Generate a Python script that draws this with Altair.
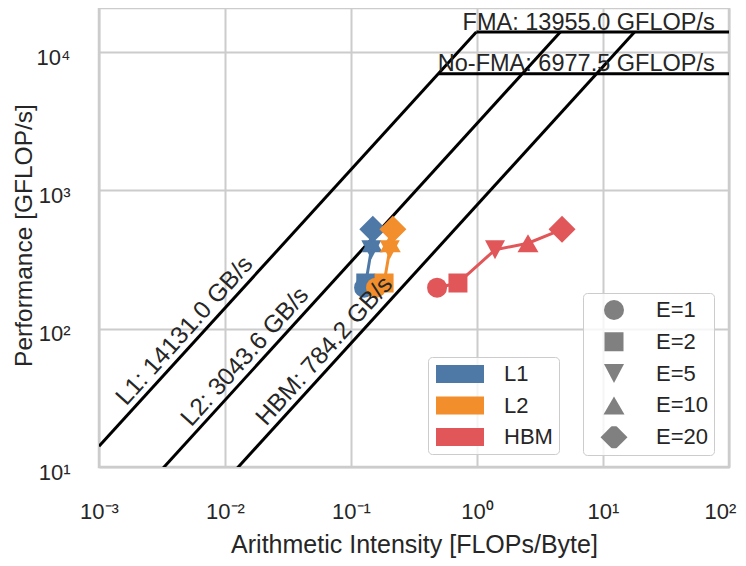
import math
import altair as alt
import pandas as pd

# ---------------- data ----------------
levels = ["L1", "L2", "HBM"]
bandwidths = [14131.0, 3043.6, 784.2]          # GB/s
level_colors = ["#4e79a7", "#f28e2b", "#e15759"]

e_labels = ["E=1", "E=2", "E=5", "E=10", "E=20"]
performance = [198, 214, 372, 415, 523]          # GFLOP/s
intensity_L1 = [0.127, 0.131, 0.145, 0.147, 0.149]
intensity_L2 = [0.158, 0.183, 0.203, 0.205, 0.215]
intensity_HBM = [0.482, 0.706, 1.39, 2.54, 4.73]

peak_names = ["FMA", "No-FMA"]
peak_values = [13955.0, 6977.5]                  # GFLOP/s

x_tick_values = [1e-3, 1e-2, 1e-1, 1, 10, 100]
x_tick_labels = ["10⁻³", "10⁻²", "10⁻¹", "10⁰", "10¹", "10²"]
y_tick_values = [10, 100, 1000, 10000]
y_tick_labels = ["10¹", "10²", "10³", "10⁴"]

# ---------------- layout constants ----------------
X_MIN, X_MAX = 1e-3, 100
Y_MIN, Y_MAX = 10, 20840
W, H = 630, 459
label_anchor_intensity = [1.8e-3, 5.9e-3, 0.0232]
ceiling_label_x = 77
TEXT = "#262626"
FONT = "Liberation Sans"

shape_paths = [
    "circle",
    "M-0.95,-0.95H0.95V0.95H-0.95Z",
    "M-1,-0.95H1L0,0.95Z",
    "M0,-0.9L1.05,0.9H-1.05Z",
    "M0,-1.35L1.35,0L0,1.35L-1.35,0Z",
]

# ---------------- tables ----------------
rows = []
for lvl, ints in zip(levels, [intensity_L1, intensity_L2, intensity_HBM]):
    for i, (e, x, y) in enumerate(zip(e_labels, ints, performance)):
        rows.append({"level": lvl, "E": e, "order": i, "intensity": x, "perf": y})
pts = pd.DataFrame(rows)

peak = max(peak_values)
roof_rows = []
for lvl, bw in zip(levels, bandwidths):
    roof_rows.append({"g": lvl, "x": X_MIN, "y": bw * X_MIN})
    roof_rows.append({"g": lvl, "x": peak / bw, "y": peak})
for name, pv in zip(peak_names, peak_values):
    roof_rows.append({"g": name, "x": pv / bandwidths[0], "y": pv})
    roof_rows.append({"g": name, "x": X_MAX, "y": pv})
roof = pd.DataFrame(roof_rows)

diag = pd.DataFrame({
    "x": label_anchor_intensity,
    "y": [bw * a for bw, a in zip(bandwidths, label_anchor_intensity)],
    "text": [f"{n}: {bw:.1f} GB/s" for n, bw in zip(levels, bandwidths)],
})
ceil_df = pd.DataFrame({
    "x": [ceiling_label_x] * len(peak_values),
    "y": peak_values,
    "text": [f"{n}: {p:.1f} GFLOP/s" for n, p in zip(peak_names, peak_values)],
})


def label_expr(values, labels):
    expr = "''"
    for v, lab in reversed(list(zip(values, labels))):
        expr = f"abs(log(datum.value)/LN10 - ({math.log10(v)})) < 0.01 ? '{lab}' : ({expr})"
    return expr


xscale = alt.Scale(type="log", domain=[X_MIN, X_MAX], nice=False)
yscale = alt.Scale(type="log", domain=[Y_MIN, Y_MAX], nice=False)

xaxis = alt.Axis(
    values=x_tick_values, labelExpr=label_expr(x_tick_values, x_tick_labels),
    title="Arithmetic Intensity [FLOPs/Byte]", grid=True, ticks=False, tickSize=0,
    domain=False, labelPadding=51, labelBaseline="alphabetic", labelFlush=False,
    labelOffset={"condition": {"test": f"datum.value >= {X_MAX}", "value": -9}, "value": 0},
    labelOverlap=False, labelFontSize=22, labelColor=TEXT,
    titleFontSize=25, titleFontWeight="normal", titleColor=TEXT,
    titleBaseline="alphabetic", titleY=85,
)
yaxis = alt.Axis(
    values=y_tick_values, labelExpr=label_expr(y_tick_values, y_tick_labels),
    title="Performance [GFLOP/s]", grid=True, ticks=False, tickSize=0,
    domain=False, labelPadding=29, labelBaseline="alphabetic", labelOffset=12,
    labelFlush=False, labelOverlap=False, labelFontSize=22, labelColor=TEXT,
    titleFontSize=24.5, titleFontWeight="normal", titleColor=TEXT,
    titleBaseline="alphabetic", titleAngle=270, titleX=-68, titleY=227,
)

color_scale = alt.Scale(domain=levels, range=level_colors)
shape_scale = alt.Scale(domain=e_labels, range=shape_paths)

color_legend = alt.Legend(
    title=None, orient="none", legendX=329, legendY=349,
    symbolType="M-1,-0.375H1V0.375H-1Z", symbolSize=2304, symbolStrokeWidth=0,
    symbolOpacity=1, clipHeight=22, padding=6, symbolOffset=2, labelOffset=20,
    rowPadding=9.5, labelFontSize=22, labelColor=TEXT, strokeColor="#cccccc",
    cornerRadius=4, fillColor="rgba(255,255,255,0.8)",
)
shape_legend = alt.Legend(
    title=None, orient="none", legendX=484, legendY=285,
    symbolSize=400, symbolFillColor="#808080", symbolStrokeWidth=0,
    symbolOpacity=1, clipHeight=22, padding=6, symbolOffset=14, labelOffset=31,
    rowPadding=9.8, labelFontSize=22, labelColor=TEXT, strokeColor="#cccccc",
    cornerRadius=4, fillColor="rgba(255,255,255,0.8)",
)

roof_layer = alt.Chart(roof).mark_line(clip=True, color="black", strokeWidth=3).encode(
    x=alt.X("x:Q", scale=xscale, axis=xaxis),
    y=alt.Y("y:Q", scale=yscale, axis=yaxis),
    detail="g:N",
)

series_layers = []
for lvl, col in zip(levels, level_colors):
    base = alt.Chart(pts).transform_filter(alt.datum.level == lvl)
    line = base.mark_line(strokeWidth=3, color=col).encode(
        x=alt.X("intensity:Q", scale=xscale),
        y=alt.Y("perf:Q", scale=yscale),
        order="order:Q",
    )
    point = base.mark_point(filled=True, opacity=1, size=400, strokeWidth=0).encode(
        x=alt.X("intensity:Q", scale=xscale),
        y=alt.Y("perf:Q", scale=yscale),
        color=alt.Color("level:N", scale=color_scale, legend=color_legend),
        shape=alt.Shape("E:N", scale=shape_scale, legend=shape_legend),
    )
    series_layers += [line, point]

diag_layer = alt.Chart(diag).mark_text(
    align="left", baseline="alphabetic", angle=312, dy=-6.5, fontSize=24.5, color=TEXT
).encode(
    x=alt.X("x:Q", scale=xscale), y=alt.Y("y:Q", scale=yscale), text="text:N"
)

ceil_layer = alt.Chart(ceil_df).mark_text(
    align="right", baseline="alphabetic", dy=-2.5, fontSize=23.5, color=TEXT
).encode(
    x=alt.X("x:Q", scale=xscale), y=alt.Y("y:Q", scale=yscale), text="text:N"
)

chart = alt.layer(roof_layer, *series_layers, diag_layer, ceil_layer).properties(
    width=W, height=H,
    autosize=alt.AutoSizeParams(type="none"),
    padding={"left": 91, "top": 0, "right": 9, "bottom": 91},
).configure(font=FONT).configure_view(
    stroke="#cccccc", strokeWidth=2.5
).configure_axis(
    gridColor="#cccccc", gridWidth=2,
).resolve_scale(color="shared", shape="shared")

chart.save("out.html", embed_options={"renderer": "svg", "actions": False})
